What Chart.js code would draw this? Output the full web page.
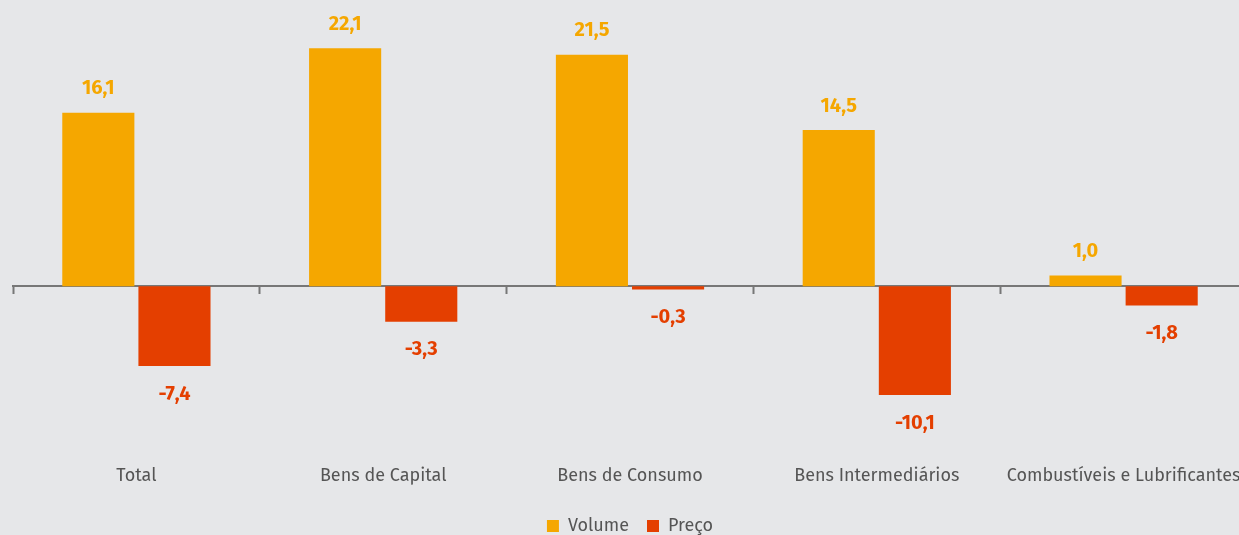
<!DOCTYPE html>
<html>
<head>
<meta charset="utf-8">
<script src="https://cdn.jsdelivr.net/npm/chart.js@4/dist/chart.umd.min.js"></script>
<style>
  html, body { margin: 0; padding: 0; background: #e6e7e9; overflow: hidden; }
  canvas { display: block; }
</style>
</head>
<body>
<canvas id="chart" width="1247" height="545"></canvas>
<script>
var categories = ["Total", "Bens de Capital", "Bens de Consumo", "Bens Intermediários", "Combustíveis e Lubrificantes"];
var volume = [16.1, 22.1, 21.5, 14.5, 1.0];
var preco = [-7.4, -3.3, -0.3, -10.1, -1.8];

var orange = "#f5a700";
var red = "#e43f00";
var fontFamily = "'Fira Sans', Roboto, 'Noto Sans', sans-serif";

// value labels above / below each bar
var valueLabels = {
    id: "valueLabels",
    afterDatasetsDraw: function (chart) {
        var ctx = chart.ctx;
        ctx.save();
        ctx.font = "bold 20px " + fontFamily;
        ctx.textAlign = "center";
        ctx.textBaseline = "middle";
        chart.data.datasets.forEach(function (ds, i) {
            chart.getDatasetMeta(i).data.forEach(function (bar, j) {
                var v = ds.data[j];
                var txt = v.toFixed(1).replace(".", ",");
                ctx.fillStyle = ds.backgroundColor;
                if (v >= 0) {
                    ctx.fillText(txt, bar.x, bar.y - 24);
                } else {
                    ctx.fillText(txt, bar.x, bar.y + 28);
                }
            });
        });
        ctx.restore();
    }
};

new Chart("chart", {
    type: "bar",
    data: {
        labels: categories,
        datasets: [{
            label: "Volume",
            data: volume,
            backgroundColor: orange,
            categoryPercentage: 0.617,
            barPercentage: 0.947
        }, {
            label: "Preço",
            data: preco,
            backgroundColor: red,
            categoryPercentage: 0.617,
            barPercentage: 0.947
        }]
    },
    options: {
        responsive: false,
        animation: false,
        layout: {
            padding: { left: 13, right: 0, top: 17, bottom: 0 }
        },
        plugins: {
            legend: {
                position: "bottom",
                labels: {
                    boxWidth: 12,
                    boxHeight: 12,
                    padding: 18,
                    color: "#555",
                    font: { family: fontFamily, size: 18 }
                }
            },
            tooltip: { enabled: false }
        },
        scales: {
            y: {
                display: false,
                min: -14,
                max: 25
            },
            x: {
                position: "bottom",
                afterFit: function (scale) {
                    scale.height += 14;
                },
                grid: {
                    display: true,
                    drawOnChartArea: false,
                    drawTicks: true,
                    tickLength: 30,
                    tickColor: "rgba(0,0,0,0)"
                },
                border: { display: false },
                ticks: {
                    padding: 0,
                    maxRotation: 0,
                    color: "#555",
                    font: { family: fontFamily, size: 18, lineHeight: 1 }
                }
            },
            xZero: {
                type: "category",
                labels: categories,
                position: { y: 0 },
                offset: true,
                grid: {
                    offset: true,
                    drawOnChartArea: false,
                    drawTicks: true,
                    tickLength: 7,
                    tickWidth: 2,
                    tickColor: "#777"
                },
                border: { color: "#777", width: 2 },
                ticks: { display: false }
            }
        }
    },
    plugins: [valueLabels]
});
</script>
</body>
</html>
